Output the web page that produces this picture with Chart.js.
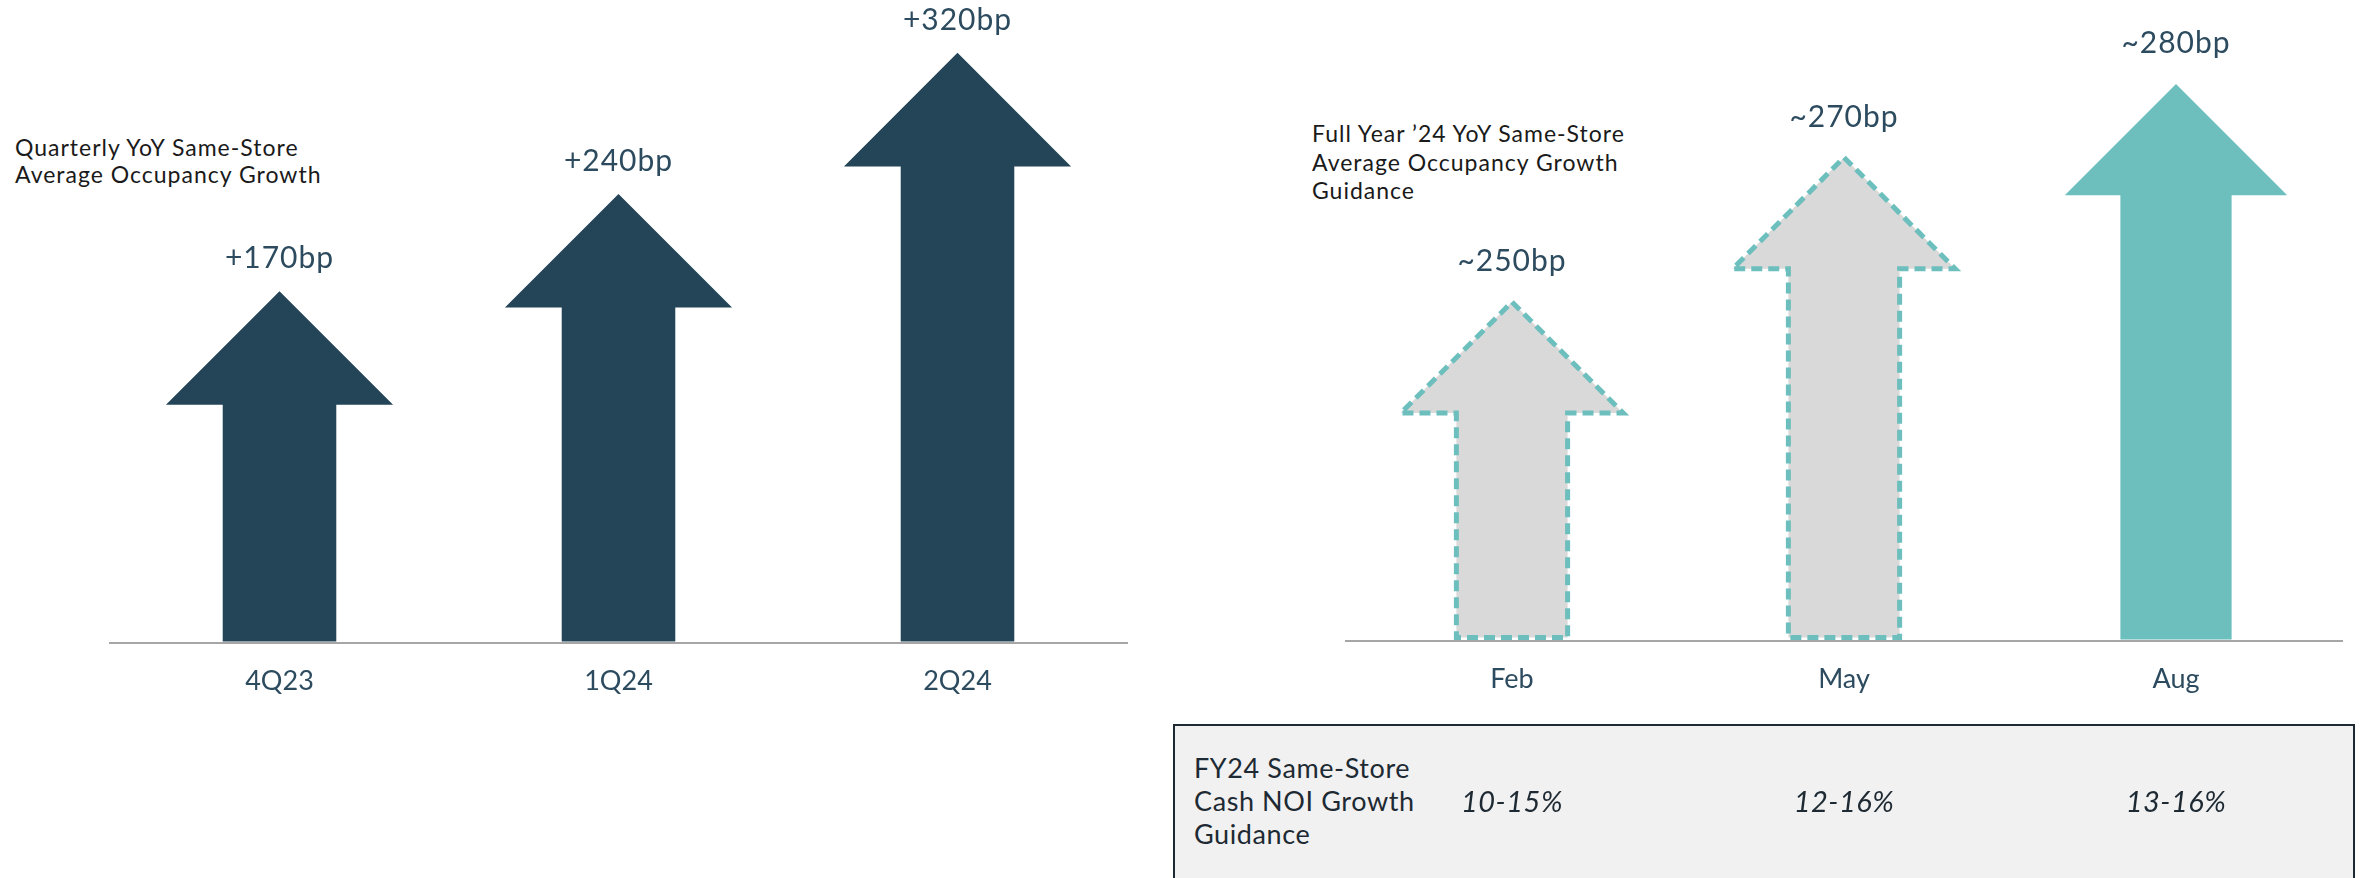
<!DOCTYPE html>
<html lang="en">
<head>
    <meta charset="UTF-8">
    <title>Same-Store Occupancy Growth</title>
    <style>
        body {
            margin: 0;
            background: #ffffff;
            font-family: Lato, sans-serif;
        }
        .page {
            position: relative;
            width: 2364px;
            height: 878px;
            overflow: hidden;
        }
        .chart-box {
            position: absolute;
            top: 0;
            height: 878px;
        }
        #leftBox { left: 0; width: 1170px; }
        #rightBox { left: 1170px; width: 1194px; }
        .note {
            position: absolute;
            font-size: 23px;
            letter-spacing: 1px;
            color: #1a1a1a;
        }
        .guidance {
            position: absolute;
            left: 1173px;
            top: 724px;
            width: 1178px;
            height: 200px;
            background: #f1f1f1;
            border: 2px solid #1e2a33;
        }
        .guidance-label {
            position: absolute;
            left: 1194px;
            top: 751px;
            font-size: 27px;
            letter-spacing: 0.6px;
            line-height: 33px;
            color: #1e2a33;
        }
    </style>
    <script src="https://cdn.jsdelivr.net/npm/chart.js"></script>
</head>
<body>
<div class="page">
    <div class="guidance"></div>
    <div class="guidance-label">FY24 Same-Store<br>Cash NOI Growth<br>Guidance</div>

    <div class="note" style="left:15px; top:134px; line-height:27px;">Quarterly YoY Same-Store<br>Average Occupancy Growth</div>
    <div class="note" style="left:1312px; top:119px; line-height:28.5px;">Full Year &#8217;24 YoY Same-Store<br>Average Occupancy Growth<br>Guidance</div>

    <div class="chart-box" id="leftBox"><canvas id="quarterChart"></canvas></div>
    <div class="chart-box" id="rightBox"><canvas id="guidanceChart"></canvas></div>
</div>

<script>
    // Left panel: quarterly results
    const quarters = ['4Q23', '1Q24', '2Q24'];
    const quarterLabels = ['+170bp', '+240bp', '+320bp'];
    // arrow length (share of plot height, arrows are not to scale)
    const quarterArrow = [58.5, 74.7, 98.2];

    // Right panel: full year guidance by update
    const updates = ['Feb', 'May', 'Aug'];
    const updateLabels = ['~250bp', '~270bp', '~280bp'];
    const updateArrow = [56.3, 80.3, 92.5];
    const noiGuidance = ['10-15%', '12-16%', '13-16%'];

    const NAVY = '#234557';
    const TEAL = '#6dbfbd';
    const LABEL = '#2d4b5f';

    // draws each bar as an up arrow, head as tall as the shaft is wide
    const arrowPlugin = {
        id: 'arrows',
        afterDatasetsDraw(chart, args, opts) {
            const ctx = chart.ctx;
            const ds = chart.data.datasets[0];
            const meta = chart.getDatasetMeta(0);
            meta.data.forEach((bar, i) => {
                const { x, y, base, width } = bar.getProps(['x', 'y', 'base', 'width'], true);
                const half = width / 2;
                const headBase = y + width;
                const dashed = ds.arrowDashed[i];
                const bottom = dashed ? base - 3 : base - 1;

                ctx.save();
                ctx.beginPath();
                ctx.moveTo(x, y);
                ctx.lineTo(x + width, headBase);
                ctx.lineTo(x + half, headBase);
                ctx.lineTo(x + half, bottom);
                ctx.lineTo(x - half, bottom);
                ctx.lineTo(x - half, headBase);
                ctx.lineTo(x - width, headBase);
                ctx.closePath();
                ctx.fillStyle = ds.arrowFill[i];
                ctx.fill();
                if (dashed) {
                    ctx.setLineDash([11, 6]);
                    ctx.lineWidth = 5;
                    ctx.strokeStyle = TEAL;
                    ctx.stroke();
                }
                ctx.restore();

                ctx.save();
                ctx.font = '30px Lato';
                ctx.letterSpacing = '1px';
                ctx.fillStyle = LABEL;
                ctx.textAlign = 'center';
                ctx.textBaseline = 'alphabetic';
                ctx.fillText(opts.labels[i], x, y - opts.gap);
                ctx.restore();
            });
        }
    };

    // guidance values in the grey box, lined up under each update
    const guidancePlugin = {
        id: 'guidanceRow',
        afterDraw(chart, args, opts) {
            if (!opts.values) return;
            const ctx = chart.ctx;
            const xScale = chart.scales.x;
            ctx.save();
            ctx.font = 'italic 29px Lato';
            ctx.letterSpacing = '0.5px';
            ctx.fillStyle = '#1e2a33';
            ctx.textAlign = 'center';
            ctx.textBaseline = 'alphabetic';
            opts.values.forEach((v, i) => {
                ctx.fillText(v, xScale.getPixelForValue(i), opts.y);
            });
            ctx.restore();
        }
    };

    function makeChart(id, labels, values, fills, dashed, barLabels, gap, padding, guidance) {
        return new Chart(document.getElementById(id), {
            type: 'bar',
            data: {
                labels: labels,
                datasets: [{
                    data: values,
                    backgroundColor: 'transparent',
                    borderWidth: 0,
                    categoryPercentage: 1,
                    barPercentage: 0.335,
                    arrowFill: fills,
                    arrowDashed: dashed
                }]
            },
            options: {
                responsive: true,
                maintainAspectRatio: false,
                animation: false,
                layout: { padding: padding },
                plugins: {
                    legend: { display: false },
                    tooltip: { enabled: false },
                    arrows: { labels: barLabels, gap: gap },
                    guidanceRow: guidance
                },
                scales: {
                    x: {
                        grid: { display: false },
                        border: { display: true, color: '#a6a6a6', width: 2 },
                        ticks: {
                            color: LABEL,
                            padding: 14,
                            font: { family: 'Lato', size: 27 }
                        }
                    },
                    y: {
                        display: false,
                        min: 0,
                        max: 100
                    }
                }
            },
            plugins: [arrowPlugin, guidancePlugin]
        });
    }

    makeChart('quarterChart', quarters, quarterArrow,
        [NAVY, NAVY, NAVY], [false, false, false],
        quarterLabels, 23,
        { left: 110, right: 43, top: 42, bottom: 167 },
        {});

    makeChart('guidanceChart', updates, updateArrow,
        ['#d9d9d9', '#d9d9d9', TEAL], [true, true, false],
        updateLabels, 31,
        { left: 176, right: 22, top: 39, bottom: 169 },
        { values: noiGuidance, y: 812 });
</script>
</body>
</html>
